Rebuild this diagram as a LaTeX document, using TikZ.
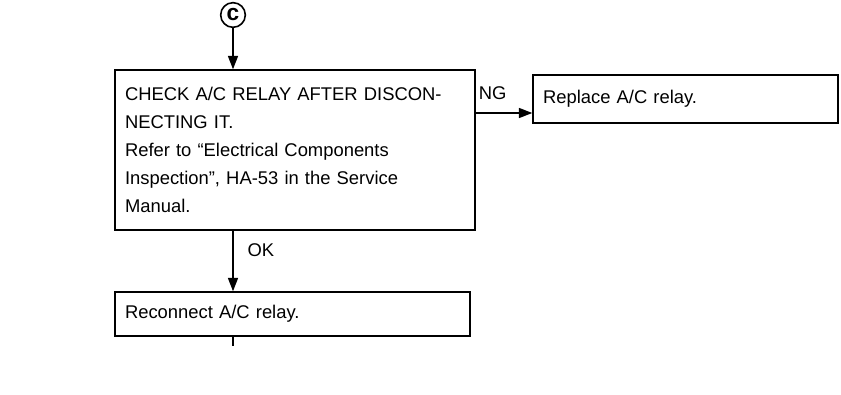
\documentclass[tikz,border=0pt]{standalone}
\usepackage{fontspec}
\setmainfont{Liberation Sans}
\usetikzlibrary{arrows.meta}
\begin{document}
\begin{tikzpicture}[x=0.75pt,y=-0.75pt,
    font=\fontsize{13.8}{21}\selectfont,
    stepbox/.style={draw,line width=1.1pt,inner xsep=7.5pt,align=left,anchor=center},
    flow/.style={line width=1.1pt,-{Triangle[length=10pt,width=7.5pt]}}]
    \useasboundingbox (0,0) rectangle (841,395);
    \node[circle,draw,line width=1.2pt,inner sep=0pt,minimum size=18.5pt,
      font=\fontsize{17}{17}\bfseries\selectfont] (circ) at (233,15) {c};
    \node[stepbox,text width=255pt,minimum height=120pt] (check) at (295,150)
      {CHECK A/C RELAY AFTER DISCON-\\NECTING IT.\\Refer to “Electrical Components\\
       Inspection”, HA-53 in the Service\\Manual.};
    \node[stepbox,text width=213.75pt,minimum height=36pt] (ng) at (685.5,99)
      {Replace A/C relay.};
    \node[stepbox,text width=251.25pt,minimum height=33pt] (recon) at (292.5,314)
      {Reconnect A/C relay.};
    \coordinate (ngy) at (0,113); \coordinate (tail) at (233,346);
    \draw[flow] (circ.south) -- (circ |- check.north);
    \draw[flow] (check.east |- ngy) -- node[above=6pt,pos=0.3] {NG} (ng.west |- ngy);
    \draw[flow] (circ |- check.south) -- node[right=7pt,pos=0.32] {OK} (circ |- recon.north);
    \draw[line width=1.1pt] (circ |- recon.south) -- (tail);
  \end{tikzpicture}
\end{document}
